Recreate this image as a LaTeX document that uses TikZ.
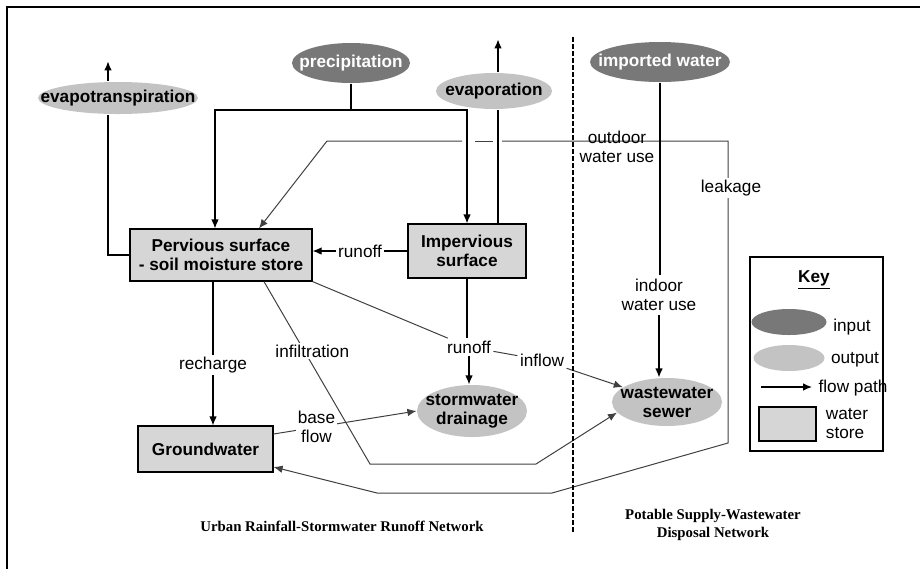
\documentclass[tikz,border=0pt]{standalone}
\usepackage{fontspec}
\setmainfont{Liberation Sans}
\newfontfamily\capfont{Liberation Serif}
\usetikzlibrary{shapes.geometric, arrows.meta}
\definecolor{indark}{HTML}{787878}
\definecolor{outgray}{HTML}{C3C3C3}
\definecolor{storefill}{HTML}{D6D6D6}

\begin{document}
\fontsize{8.6}{9.5}\selectfont
\begin{tikzpicture}[x=0.5pt, y=-0.5pt, line width=0.6pt, >={Latex[length=4.5pt,width=3.8pt]},
  flow/.style={->},
  gline/.style={draw=black!75, line width=0.5pt},
  inp/.style={ellipse, fill=indark, inner sep=0pt},
  outp/.style={ellipse, fill=outgray, inner sep=0pt},
  btxt/.style={font=\bfseries},
  wtxt/.style={font=\bfseries, text=white},
  store/.style={draw, fill=storefill, inner sep=0pt, align=center, font=\bfseries},
  lbl/.style={fill=white, inner sep=1pt},
  captxt/.style={font=\capfont\bfseries\fontsize{7.4}{8.6}\selectfont, align=center}]
\useasboundingbox (0,0) rectangle (920,569);
\draw[line width=1.4pt] (7,569) -- (7,7) -- (920,7);

\node[outp, minimum width=80pt, minimum height=16pt, label={[btxt]center:evapotranspiration}] (evt) at (118,98) {};
\node[inp, minimum width=59pt, minimum height=20pt, label={[wtxt]center:precipitation}] (prec) at (351,63) {};
\node[outp, minimum width=58pt, minimum height=18pt, label={[btxt]center:evaporation}] (evap) at (494,91) {};
\node[inp, minimum width=70pt, minimum height=20pt, label={[wtxt]center:imported water}] (impw) at (660,62) {};
\node[store, minimum width=91pt, minimum height=26pt] (perv) at (221,255) {Pervious surface\\- soil moisture store};
\node[store, minimum width=59pt, minimum height=27pt] (imp) at (467,251) {Impervious\\surface};
\node[store, minimum width=67.5pt, minimum height=23pt] (gw) at (205.5,449) {Groundwater};
\node[outp, minimum width=55pt, minimum height=26pt, label={[btxt,align=center]center:stormwater\\drainage}] (storm) at (472,411) {};
\node[outp, minimum width=55pt, minimum height=24pt, label={[btxt,align=center]center:wastewater\\sewer}] (ww) at (667,402) {};

\draw (perv.west) -| ([xshift=-5pt]evt.south);
\draw[flow] ([xshift=-5pt]evt.north) -- ++(0,-20);

\coordinate (psplit) at (351,110);
\draw (prec.south) -- (psplit);
\draw[flow] (psplit) -| ([xshift=-3pt]perv.north);
\draw[flow] (psplit) -| (imp.north);

\draw ([xshift=15.5pt]imp.north) -- ([xshift=15.5pt]imp.north |- evap.south);
\draw[flow] ([xshift=2pt]evap.north) -- ++(0,-33);

% outdoor use / leakage, broken where it passes the two vertical lines
\draw[gline, flow] (462,141) -- (327,141) -- ([xshift=19pt]perv.north);
\draw[gline] (475,141) -- (493,141);
\draw[gline, flow] (502,141) -- (728,141) -- (728,443) -- (552,493) -- (377,493) -- ([yshift=-9pt]gw.east);
\node[lbl] (leak) at (731,188) {leakage};
\node[align=center, inner sep=1pt] (outdoor) at (617,147) {outdoor\\water use};

\node[align=center, inner sep=2pt] (indoor) at (659,295) {indoor\\water use};
\draw (impw.south) -- (impw.south |- indoor.north);
\draw[flow] (indoor.south) -- (indoor.south |- ww.north);

\draw[flow] (imp.west) -- node[lbl]{runoff} (imp.west -| perv.east);
\draw[flow] ([xshift=-4pt]perv.south) -- node[lbl, pos=0.58]{recharge} ([xshift=-4pt]perv.south |- gw.north);

\node[inner sep=1pt] (ro) at (469,347) {runoff};
\node[inner sep=1pt] (infl) at (542,360) {inflow};
\draw[gline] (perv.south east) -- (ro);
\draw[gline] (ro) -- (infl);
\draw[gline, flow] (infl) -- (ww);
\draw (imp.south) -- (imp.south |- ro.north);
\draw[flow] (ro.south) -- (ro.south |- storm.north);

\draw[gline, flow] ([yshift=7.5pt]gw.east) -- node[lbl, pos=0.3, align=center]{base\\flow} (storm.west);
\draw[gline, flow] ([xshift=21.5pt]perv.south) -- node[lbl, pos=0.38, xshift=4pt]{infiltration} (370,464) -- (536,464) -- (ww.192);

\draw[dash pattern=on 2.5pt off 1pt] (573,37) -- (573,533);

\node[draw, minimum width=66.5pt, minimum height=97pt, inner sep=0pt] (key) at (816.5,354) {};
\node[font=\bfseries] (keyttl) at (814,280) {\underline{Key}};
\node[inp, minimum width=37.5pt, minimum height=13pt] (kin) at (789,322) {};
\node (kinl) at (852,327) {input};
\node[outp, minimum width=35.5pt, minimum height=13pt] (kout) at (789,358) {};
\node (koutl) at (855,360) {output};
\coordinate (kfa) at (761,387);
\coordinate (kfb) at (812,387);
\draw[flow] (kfa) -- (kfb);
\node (kflow) at (853,388) {flow path};
\node[store, minimum width=28.5pt, minimum height=17pt] (kst) at (787.5,424) {};
\node[align=left] (kstl) at (847,424) {water\\store};

\node[captxt] (capl) at (342,526) {Urban Rainfall-Stormwater Runoff Network};
\node[captxt] (capr) at (713,525) {Potable Supply-Wastewater\\Disposal Network};
\end{tikzpicture}
\end{document}
